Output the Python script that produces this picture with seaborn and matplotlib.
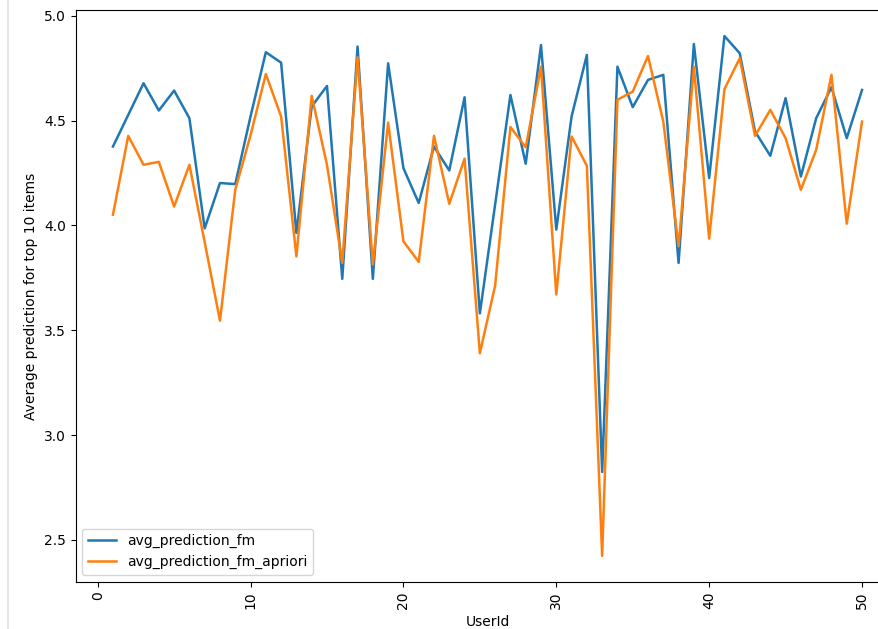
import numpy as np
import pandas as pd
import matplotlib
matplotlib.use('Agg')
import matplotlib.pyplot as plt
from matplotlib.lines import Line2D
import seaborn as sns

user_ids = list(range(1, 51))

avg_prediction_fm = [4.376, 4.527, 4.678, 4.548, 4.643, 4.511, 3.986, 4.202, 4.197, 4.52,
                     4.826, 4.776, 3.964, 4.567, 4.665, 3.745, 4.853, 3.745, 4.773, 4.273,
                     4.107, 4.376, 4.262, 4.611, 3.580, 4.10, 4.622, 4.294, 4.860, 3.980,
                     4.519, 4.813, 2.824, 4.757, 4.564, 4.694, 4.718, 3.821, 4.865, 4.226,
                     4.903, 4.821, 4.448, 4.332, 4.607, 4.233, 4.511, 4.659, 4.416, 4.646]

avg_prediction_fm_apriori = [4.051, 4.427, 4.289, 4.303, 4.090, 4.289, 3.92, 3.545, 4.170, 4.43,
                             4.722, 4.519, 3.852, 4.618, 4.289, 3.821, 4.802, 3.813, 4.490, 3.924,
                             3.826, 4.427, 4.103, 4.318, 3.39, 3.713, 4.469, 4.373, 4.757, 3.670,
                             4.424, 4.284, 2.424, 4.599, 4.638, 4.808, 4.495, 3.900, 4.757, 3.937,
                             4.650, 4.797, 4.427, 4.551, 4.416, 4.170, 4.360, 4.718, 4.008, 4.495]

df = pd.DataFrame({'UserId': user_ids,
                   'avg_prediction_fm': avg_prediction_fm,
                   'avg_prediction_fm_apriori': avg_prediction_fm_apriori})

fig, ax = plt.subplots(figsize=(8.79, 6.29), dpi=100)
# the original is a cropped screenshot: right part of the axes is cut off
fig.subplots_adjust(left=0.0859, right=1.0233, top=0.984, bottom=0.075)

sns.lineplot(data=df, x='UserId', y='avg_prediction_fm', label='avg_prediction_fm', ax=ax, lw=1.8)
sns.lineplot(data=df, x='UserId', y='avg_prediction_fm_apriori', label='avg_prediction_fm_apriori', ax=ax, lw=1.8)

ax.set_ylabel('Average prediction for top 10 items')
ax.set_xlabel('UserId')
ax.tick_params(axis='x', labelrotation=90)
ax.legend(loc='lower left')

# faint frame line at the left edge of the screenshot
fig.add_artist(Line2D([0.0095, 0.0095], [0, 1], transform=fig.transFigure,
                      color='#e4e4e4', lw=1.5))

plt.savefig('out.png', dpi=100)
